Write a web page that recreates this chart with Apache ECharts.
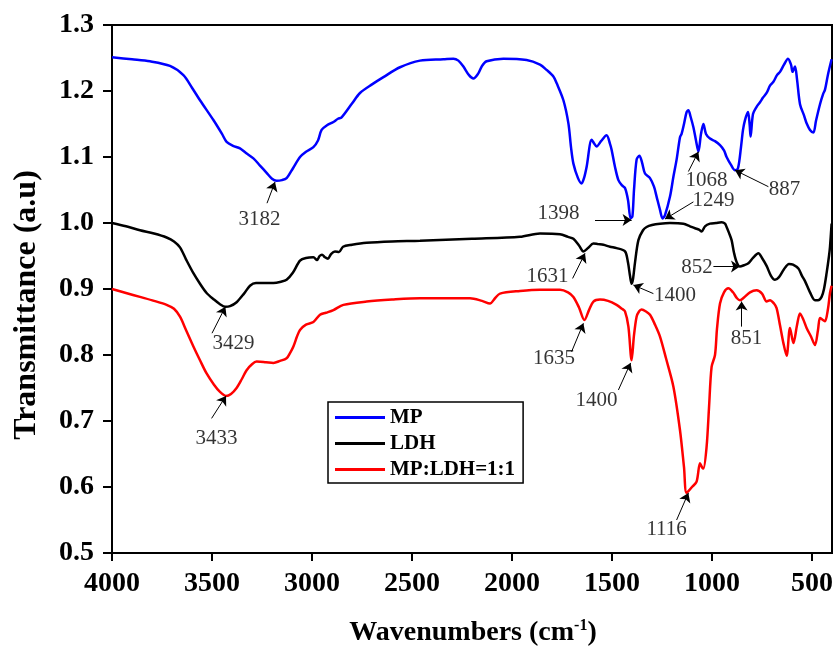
<!DOCTYPE html>
<html>
<head>
<meta charset="utf-8">
<script src="https://cdn.jsdelivr.net/npm/echarts@6/dist/echarts.min.js"></script>
<style>
  html, body { margin: 0; padding: 0; background: #fff; }
  #chart { width: 838px; height: 648px; }
</style>
</head>
<body>
<div id="chart"></div>
<script>
// FTIR 光谱数据 [波数, 透过率]
const mpData = [[4000,1.251],[3900,1.248],[3810,1.245],[3710,1.238],[3643,1.224],[3600,1.205],[3560,1.186],[3493,1.156],[3450,1.135],[3427,1.123],[3395,1.117],[3360,1.113],[3330,1.106],[3293,1.098],[3260,1.087],[3227,1.076],[3200,1.067],[3177,1.064],[3150,1.065],[3127,1.068],[3095,1.083],[3060,1.100],[3030,1.108],[2993,1.115],[2970,1.125],[2952,1.141],[2925,1.148],[2893,1.153],[2870,1.158],[2852,1.160],[2800,1.181],[2760,1.197],[2700,1.210],[2643,1.221],[2560,1.236],[2460,1.246],[2343,1.248],[2293,1.249],[2268,1.246],[2243,1.237],[2215,1.224],[2193,1.219],[2170,1.226],[2150,1.238],[2127,1.245],[2043,1.249],[1927,1.247],[1860,1.240],[1827,1.232],[1793,1.222],[1777,1.212],[1743,1.186],[1718,1.151],[1705,1.115],[1693,1.090],[1670,1.068],[1652,1.060],[1640,1.068],[1627,1.085],[1602,1.126],[1590,1.121],[1577,1.116],[1555,1.124],[1527,1.133],[1510,1.120],[1502,1.111],[1485,1.085],[1468,1.065],[1450,1.057],[1435,1.053],[1420,1.035],[1407,1.007],[1398,1.010],[1390,1.050],[1377,1.096],[1363,1.102],[1350,1.092],[1335,1.075],[1310,1.068],[1290,1.055],[1277,1.040],[1260,1.020],[1247,1.007],[1235,1.012],[1210,1.040],[1193,1.070],[1177,1.096],[1160,1.130],[1152,1.135],[1140,1.150],[1127,1.168],[1118,1.171],[1107,1.161],[1093,1.145],[1080,1.125],[1068,1.108],[1055,1.135],[1043,1.150],[1030,1.135],[1010,1.128],[985,1.124],[960,1.118],[940,1.110],[927,1.100],[905,1.088],[885,1.080],[870,1.083],[855,1.115],[845,1.141],[835,1.156],[820,1.168],[812,1.150],[807,1.131],[795,1.165],[777,1.176],[760,1.183],[745,1.190],[727,1.197],[710,1.208],[693,1.214],[675,1.224],[660,1.229],[640,1.240],[620,1.249],[605,1.240],[597,1.229],[585,1.237],[575,1.218],[560,1.180],[540,1.163],[527,1.151],[510,1.141],[493,1.137],[480,1.155],[460,1.180],[445,1.195],[435,1.202],[420,1.225],[402,1.248]];

const ldhData = [[4000,1.000],[3930,0.995],[3860,0.989],[3790,0.984],[3727,0.978],[3690,0.972],[3660,0.963],[3630,0.945],[3593,0.924],[3560,0.908],[3527,0.894],[3490,0.884],[3460,0.877],[3433,0.873],[3410,0.874],[3377,0.880],[3340,0.893],[3310,0.905],[3280,0.909],[3230,0.909],[3193,0.909],[3155,0.911],[3127,0.914],[3095,0.925],[3060,0.943],[3030,0.947],[2993,0.948],[2975,0.944],[2962,0.950],[2950,0.952],[2935,0.948],[2920,0.946],[2905,0.953],[2885,0.957],[2865,0.956],[2845,0.964],[2800,0.967],[2727,0.970],[2600,0.972],[2460,0.973],[2200,0.976],[1960,0.979],[1860,0.984],[1760,0.983],[1720,0.979],[1693,0.976],[1665,0.966],[1643,0.957],[1620,0.962],[1593,0.969],[1570,0.968],[1543,0.967],[1510,0.964],[1477,0.962],[1435,0.957],[1420,0.940],[1410,0.920],[1402,0.908],[1395,0.915],[1385,0.940],[1368,0.974],[1345,0.989],[1327,0.994],[1300,0.997],[1260,0.999],[1210,1.000],[1143,0.999],[1110,0.995],[1085,0.992],[1065,0.990],[1052,0.987],[1035,0.995],[1010,0.999],[980,1.000],[952,1.001],[935,0.999],[927,0.994],[915,0.985],[902,0.974],[890,0.955],[877,0.941],[860,0.934],[840,0.936],[818,0.939],[795,0.947],[768,0.954],[750,0.947],[727,0.935],[705,0.920],[685,0.914],[665,0.918],[640,0.930],[615,0.938],[595,0.937],[568,0.931],[550,0.920],[535,0.912],[510,0.895],[485,0.883],[470,0.883],[452,0.888],[440,0.900],[427,0.924],[415,0.950],[410,0.964],[402,0.999]];

const mixData = [[4000,0.900],[3930,0.894],[3860,0.888],[3790,0.882],[3727,0.876],[3690,0.870],[3660,0.858],[3630,0.838],[3593,0.813],[3560,0.792],[3527,0.772],[3490,0.755],[3460,0.744],[3430,0.738],[3405,0.741],[3377,0.750],[3350,0.764],[3327,0.777],[3300,0.786],[3277,0.790],[3230,0.789],[3193,0.788],[3160,0.791],[3127,0.795],[3110,0.803],[3093,0.813],[3075,0.828],[3060,0.838],[3030,0.846],[2993,0.850],[2960,0.861],[2930,0.864],[2893,0.868],[2843,0.876],[2727,0.881],[2600,0.884],[2460,0.886],[2210,0.886],[2150,0.882],[2110,0.878],[2085,0.886],[2060,0.893],[1960,0.897],[1860,0.899],[1760,0.899],[1720,0.895],[1693,0.888],[1665,0.872],[1638,0.853],[1615,0.868],[1593,0.881],[1560,0.884],[1520,0.882],[1477,0.876],[1450,0.870],[1435,0.866],[1418,0.843],[1402,0.792],[1390,0.830],[1377,0.858],[1365,0.866],[1352,0.869],[1330,0.866],[1310,0.861],[1285,0.846],[1260,0.828],[1230,0.795],[1193,0.752],[1160,0.686],[1140,0.630],[1127,0.591],[1100,0.600],[1077,0.608],[1060,0.636],[1050,0.630],[1043,0.628],[1027,0.661],[1015,0.720],[1002,0.782],[985,0.800],[975,0.840],[960,0.878],[940,0.895],[918,0.901],[895,0.895],[875,0.886],[860,0.883],[840,0.887],[810,0.895],[777,0.898],[750,0.893],[727,0.881],[710,0.883],[690,0.878],[677,0.871],[660,0.845],[643,0.818],[627,0.799],[610,0.841],[593,0.818],[575,0.845],[560,0.863],[545,0.855],[527,0.841],[505,0.828],[485,0.815],[470,0.838],[460,0.856],[445,0.853],[435,0.851],[420,0.870],[410,0.894],[402,0.905]];

const seriesNames = ['MP', 'LDH', 'MP:LDH=1:1'];
const seriesColors = ['#0000ff', '#000000', '#ff0000'];
const xTicks = [4000, 3500, 3000, 2500, 2000, 1500, 1000, 500];

// 峰标注: 文字, 文字位置, 箭头起点, 箭头终点
const annoText = ['3182', '3429', '3433', '1398', '1249', '1068', '887', '1631', '1400', '852', '1635', '1400', '1116', '851'];
const annoLabelAt = [[3263,1.006],[3393,0.817],[3477,0.674],[1767,1.015],[993,1.034],[1027,1.065],[638,1.051],[1823,0.919],[1185,0.890],[1075,0.933],[1790,0.794],[1577,0.731],[1227,0.535],[827,0.825]];
const arrowFrom = [[3225,1.030],[3500,0.833],[3502,0.704],[1585,1.0045],[1093,1.032],[1118,1.078],[718,1.055],[1697,0.916],[1293,0.893],[993,0.934],[1702,0.805],[1468,0.747],[1177,0.550],[852,0.843]];
const arrowTo = [[3185,1.062],[3433,0.873],[3430,0.738],[1402,1.0045],[1235,1.006],[1068,1.108],[885,1.080],[1635,0.954],[1393,0.906],[860,0.934],[1643,0.848],[1407,0.788],[1118,0.591],[852,0.881]];

const serif = 'Liberation Serif';

const chart = echarts.init(document.getElementById('chart'));

const lineSeries = [mpData, ldhData, mixData].map((d, i) => ({
  name: seriesNames[i],
  type: 'line',
  data: d,
  symbol: 'none',
  smooth: 0.3,
  lineStyle: { color: seriesColors[i], width: 2.5 },
  itemStyle: { color: seriesColors[i] },
  z: 3
}));

const option = {
  animation: false,
  backgroundColor: '#fff',
  grid: {
    left: 112, top: 25, right: 6, bottom: 95,
    show: true, borderColor: '#000', borderWidth: 2
  },
  legend: {
    data: seriesNames.map(n => ({ name: n, icon: 'rect' })),
    orient: 'vertical',
    left: 328, top: 402,
    itemWidth: 50, itemHeight: 3, itemGap: 5,
    padding: [5, 8, 3, 7],
    borderColor: '#000', borderWidth: 1.5,
    textStyle: { fontFamily: serif, fontWeight: 'bold', fontSize: 21, color: '#000', lineHeight: 21 }
  },
  xAxis: {
    type: 'value',
    min: 400, max: 4000,
    inverse: true,
    axisLine: { lineStyle: { color: '#000', width: 2 } },
    axisTick: { customValues: xTicks, length: 8, lineStyle: { color: '#000', width: 2 } },
    axisLabel: {
      customValues: xTicks, margin: 17,
      fontFamily: serif, fontWeight: 'bold', fontSize: 28, color: '#000',
      formatter: v => String(v)
    },
    splitLine: { show: false }
  },
  yAxis: {
    type: 'value',
    min: 0.5, max: 1.3, interval: 0.1,
    axisLine: { show: true, lineStyle: { color: '#000', width: 2 } },
    axisTick: { show: true, length: 9, lineStyle: { color: '#000', width: 2 } },
    axisLabel: {
      margin: 18, fontFamily: serif, fontWeight: 'bold', fontSize: 28, color: '#000',
      formatter: v => v.toFixed(1)
    },
    splitLine: { show: false }
  },
  series: lineSeries.concat([{
    name: 'annot',
    type: 'scatter',
    symbolSize: 0,
    silent: true,
    data: annoLabelAt.map((p, i) => [p[0], p[1], annoText[i]]),
    label: {
      show: true, position: [0, 0], align: 'center', verticalAlign: 'middle',
      formatter: p => p.value[2],
      fontFamily: serif, fontSize: 21, color: '#000', textBorderWidth: 0
    },
    markLine: {
      silent: true,
      symbol: ['none', 'arrow'],
      symbolSize: 9,
      label: { show: false },
      lineStyle: { color: '#000', width: 1, type: 'solid' },
      data: arrowFrom.map((p, i) => [{ coord: p }, { coord: arrowTo[i] }])
    },
    z: 5
  }])
};

// 坐标轴标题
option.graphic = [
  {
    type: 'text',
    x: 27, y: 305,
    rotation: Math.PI / 2,
    style: {
      text: 'Transmittance (a.u)',
      font: 'bold 32px "Liberation Serif"',
      fill: '#000',
      align: 'center', verticalAlign: 'middle'
    }
  },
  {
    type: 'text',
    x: 473, y: 633,
    style: {
      text: '{a|Wavenumbers (cm}{b|-1}{a|)}',
      align: 'center', verticalAlign: 'middle',
      rich: {
        a: { fontFamily: serif, fontWeight: 'bold', fontSize: 28, color: '#000', lineHeight: 30 },
        b: { fontFamily: serif, fontWeight: 'bold', fontSize: 16, color: '#000', verticalAlign: 'top', lineHeight: 30, padding: [0, 0, 12, 0] }
      }
    }
  }
];

chart.setOption(option);
</script>
</body>
</html>
